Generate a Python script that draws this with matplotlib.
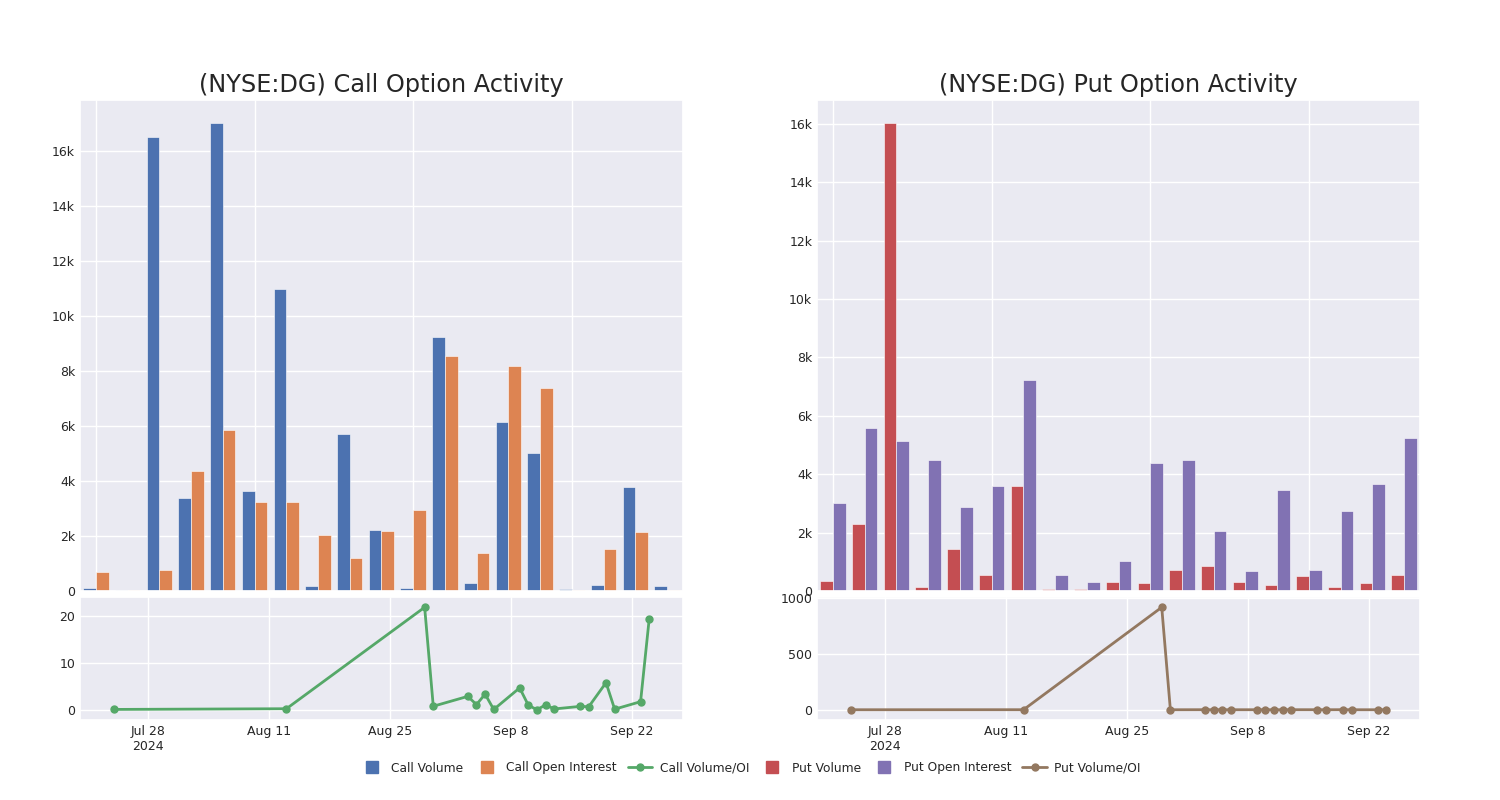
import matplotlib
matplotlib.use("Agg")
import matplotlib.pyplot as plt
import matplotlib.dates as mdates
from matplotlib.lines import Line2D
from matplotlib.ticker import FuncFormatter
import seaborn as sns
import numpy as np
import pandas as pd

# --- data ---
dates = pd.to_datetime([
    "2024-07-24", "2024-08-13", "2024-08-29", "2024-08-30", "2024-09-03",
    "2024-09-04", "2024-09-05", "2024-09-06", "2024-09-09", "2024-09-10",
    "2024-09-11", "2024-09-12", "2024-09-13", "2024-09-16", "2024-09-17",
    "2024-09-19", "2024-09-20", "2024-09-23", "2024-09-24",
])

call_volume = [90, 20, 16480, 3390, 16990, 3650, 10980, 180, 5700, 2220,
               100, 9220, 280, 6130, 5010, 80, 230, 3770, 190]
call_oi = [700, 40, 750, 4370, 5850, 3240, 3250, 2050, 1210, 2170,
           2950, 8520, 1370, 8170, 7370, 20, 1530, 2140, 20]
call_ratio = [0.1, 0.25, 21.97, 0.78, 2.9, 1.13, 3.38, 0.09, 4.71, 1.02,
              0.03, 1.08, 0.2, 0.75, 0.68, 5.83, 0.15, 1.76, 19.5]

put_volume = [350, 2300, 16020, 140, 1450, 530, 3590, 60, 80, 290,
              260, 710, 850, 300, 210, 510, 130, 260, 530]
put_oi = [3030, 5580, 5130, 4490, 2880, 3600, 7230, 560, 300, 1040,
          4390, 4490, 2050, 680, 3470, 730, 2730, 3660, 5240]
put_ratio = [0.12, 0.41, 915, 0.03, 0.5, 0.15, 0.5, 0.11, 0.27, 0.28,
             0.06, 0.16, 0.41, 0.44, 0.06, 0.7, 0.05, 0.07, 0.1]

tick_dates = pd.to_datetime(["2024-07-28", "2024-08-11", "2024-08-25",
                             "2024-09-08", "2024-09-22"])

# --- colours (seaborn deep) ---
C_BLUE = "#4C72B0"
C_ORANGE = "#DD8452"
C_GREEN = "#55A868"
C_RED = "#C44E52"
C_PURPLE = "#8172B3"
C_BROWN = "#937860"

sns.set_theme(style="darkgrid")
plt.rcParams["font.family"] = ["DejaVu Sans"]

fig = plt.figure(figsize=(15, 8), dpi=100)

# axes rectangles in figure fractions
LEFT_X, RIGHT_X, W = 0.0533, 0.5447, 0.402
BAR_Y, BAR_H = 0.2613, 0.6137
LINE_Y, LINE_H = 0.10, 0.1537


def k_fmt(v, pos):
    if v == 0:
        return "0"
    return f"{v / 1000:.0f}k"


def date_fmt(v, pos):
    d = mdates.num2date(v)
    label = f"{d.strftime('%b')} {d.day}"
    if pos == 0:
        label += f"\n{d.year}"
    return label


def bar_panel(x0, vol, oi, c1, c2, title):
    ax = fig.add_axes([x0, BAR_Y, W, BAR_H])
    idx = np.arange(len(vol))
    w = 0.4
    ax.bar(idx - w / 2, vol, width=w, color=c1, edgecolor="white", linewidth=0.4)
    ax.bar(idx + w / 2, oi, width=w, color=c2, edgecolor="white", linewidth=0.4)
    ax.set_xlim(-0.5, len(vol) - 0.5)
    ax.set_ylim(0, max(max(vol), max(oi)) * 1.05)
    ax.set_xticks([0, 5, 10, 15])
    ax.set_xticklabels([])
    ax.yaxis.set_major_formatter(FuncFormatter(k_fmt))
    ax.tick_params(axis="both", length=0, labelsize=9, colors="#262626")
    ax.set_title(title, fontsize=17.3, color="#262626", pad=6)
    return ax


def line_panel(x0, ratio, color, yticks):
    ax = fig.add_axes([x0, LINE_Y, W, LINE_H])
    ax.plot(dates, ratio, color=color, marker="o", markersize=5, linewidth=2)
    ax.margins(x=0.063, y=0.1)
    ax.set_xticks(tick_dates)
    ax.xaxis.set_major_formatter(FuncFormatter(date_fmt))
    ax.set_yticks(yticks)
    ax.tick_params(axis="both", length=0, labelsize=9, colors="#262626")
    return ax


bar_panel(LEFT_X, call_volume, call_oi, C_BLUE, C_ORANGE,
          "(NYSE:DG) Call Option Activity")
bar_panel(RIGHT_X, put_volume, put_oi, C_RED, C_PURPLE,
          "(NYSE:DG) Put Option Activity")
line_panel(LEFT_X, call_ratio, C_GREEN, [0, 10, 20])
line_panel(RIGHT_X, put_ratio, C_BROWN, [0, 500, 1000])

# --- legend along the bottom ---
handles = [
    Line2D([0], [0], marker="s", linestyle="none", color=C_BLUE, markersize=9),
    Line2D([0], [0], marker="s", linestyle="none", color=C_ORANGE, markersize=9),
    Line2D([0], [0], marker="o", color=C_GREEN, markersize=5, linewidth=2),
    Line2D([0], [0], marker="s", linestyle="none", color=C_RED, markersize=9),
    Line2D([0], [0], marker="s", linestyle="none", color=C_PURPLE, markersize=9),
    Line2D([0], [0], marker="o", color=C_BROWN, markersize=5, linewidth=2),
]
labels = ["Call Volume", "Call Open Interest", "Call Volume/OI",
          "Put Volume", "Put Open Interest", "Put Volume/OI"]
fig.legend(handles, labels, loc="center", bbox_to_anchor=(0.5, 0.04),
           ncol=6, frameon=False, fontsize=8.8, handletextpad=0.6,
           columnspacing=0.9)

fig.savefig("out.png", dpi=100)
